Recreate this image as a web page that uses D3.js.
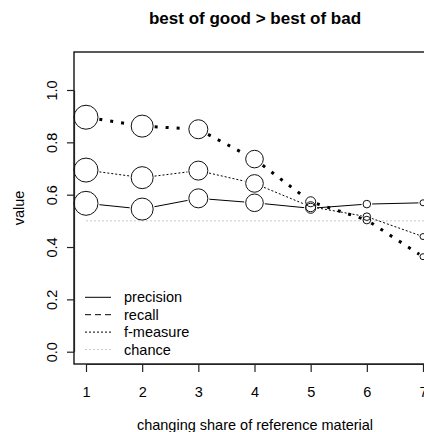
<!DOCTYPE html>
<html>
<head>
<meta charset="utf-8">
<script src="https://cdn.jsdelivr.net/npm/d3@7"></script>
<style>
  body { margin: 0; background: #fff; }
  svg { display: block; font-family: "Liberation Sans", Arial, sans-serif; }
</style>
</head>
<body>
<div id="chart"></div>
<script>
// data
var shares = [1, 2, 3, 4, 5, 6, 7]
var precision = [0.567, 0.545, 0.586, 0.569, 0.548, 0.564, 0.569]
var recall = [0.896, 0.862, 0.850, 0.736, 0.573, 0.503, 0.363]
var fmeasure = [0.694, 0.665, 0.692, 0.643, 0.554, 0.516, 0.440]
var chance = 0.5
var pointSize = [12, 11, 9.5, 8.8, 5, 3.8, 3]
var yTicks = [0, 0.2, 0.4, 0.6, 0.8, 1.0]
var legendLabels = ["precision", "recall", "f-measure", "chance"]

var width = 424, height = 432
var box = { left: 74, top: 52, right: 437, bottom: 364 }

var svg = d3.select("#chart").append("svg")
  .attr("width", width)
  .attr("height", height)

var x = d3.scaleLinear().domain([1, 7]).range([86, 423])
var y = d3.scaleLinear().domain([0, 1]).range([351.7, 90])

// plot box
svg.append("rect")
  .attr("x", box.left).attr("y", box.top)
  .attr("width", box.right - box.left).attr("height", box.bottom - box.top)
  .attr("fill", "none").attr("stroke", "#000").attr("stroke-width", 1.3)

// axes
var yAxis = svg.append("g")
  .attr("transform", "translate(" + box.left + ",0)")
  .call(d3.axisLeft(y).tickValues(yTicks).tickFormat(d3.format(".1f")).tickSize(7).tickSizeOuter(0))
yAxis.selectAll("text")
  .attr("x", null).attr("dy", null)
  .attr("text-anchor", "middle")
  .attr("transform", "translate(-17,0) rotate(-90)")

var xAxis = svg.append("g")
  .attr("transform", "translate(0," + box.bottom + ")")
  .call(d3.axisBottom(x).tickValues(shares).tickFormat(d3.format("d")).tickSize(8).tickSizeOuter(0))
xAxis.selectAll("text").attr("y", 33).attr("dy", null)

svg.selectAll(".tick text").attr("font-size", 14.5).attr("font-family", "Liberation Sans, Arial, sans-serif").attr("fill", "#000")
svg.selectAll(".domain, .tick line").attr("stroke", "#222").attr("stroke-width", 1.2)

// titles
svg.append("text")
  .attr("x", 255).attr("y", 24)
  .attr("text-anchor", "middle")
  .attr("font-size", 17).attr("font-weight", "bold")
  .text("best of good > best of bad")

svg.append("text")
  .attr("x", 255).attr("y", 430)
  .attr("text-anchor", "middle")
  .attr("font-size", 14.5)
  .text("changing share of reference material")

svg.append("text")
  .attr("transform", "translate(24,208) rotate(-90)")
  .attr("text-anchor", "middle")
  .attr("font-size", 14.5)
  .text("value")

var plot = svg.append("g")

// chance line
plot.append("line")
  .attr("x1", x(1)).attr("x2", x(7.3))
  .attr("y1", y(chance)).attr("y2", y(chance))
  .attr("stroke", "#c8c8c8").attr("stroke-dasharray", "2,2")

// series drawn like R type="b": segments stop at point edges
function series(values, dash, lw) {
  var pts = values.map(function(v, i) { return [x(shares[i]), y(v), pointSize[i]] })
  var segs = d3.pairs(pts).map(function(p) {
    var a = p[0], b = p[1]
    var dx = b[0] - a[0], dy = b[1] - a[1], len = Math.sqrt(dx * dx + dy * dy)
    var ux = dx / len, uy = dy / len
    return [a[0] + ux * (a[2] + 1.5), a[1] + uy * (a[2] + 1.5), b[0] - ux * (b[2] + 1.5), b[1] - uy * (b[2] + 1.5), len > a[2] + b[2] + 3]
  }).filter(function(s) { return s[4] })

  plot.append("g").selectAll("line").data(segs).join("line")
    .attr("x1", function(s) { return s[0] }).attr("y1", function(s) { return s[1] })
    .attr("x2", function(s) { return s[2] }).attr("y2", function(s) { return s[3] })
    .attr("stroke", "#000").attr("stroke-width", lw)
    .attr("stroke-dasharray", dash)

  plot.append("g").selectAll("circle").data(pts).join("circle")
    .attr("cx", function(p) { return p[0] }).attr("cy", function(p) { return p[1] })
    .attr("r", function(p) { return p[2] })
    .attr("fill", "none").attr("stroke", "#111").attr("stroke-width", 1)
}

series(precision, null, 1)
series(fmeasure, "2,2", 1)
series(recall, "3,8", 3)

// legend
var legendStyles = [
  { dash: null, color: "#000" },
  { dash: "6,4", color: "#000" },
  { dash: "2,2", color: "#000" },
  { dash: "2,2", color: "#c8c8c8" }
]
var legend = svg.append("g").selectAll("g").data(legendLabels).join("g")
  .attr("transform", function(d, i) { return "translate(0," + (297.3 + i * 17.4) + ")" })
legend.append("line")
  .attr("x1", 85).attr("x2", 111)
  .attr("stroke", function(d, i) { return legendStyles[i].color })
  .attr("stroke-dasharray", function(d, i) { return legendStyles[i].dash })
legend.append("text")
  .attr("x", 124).attr("y", 5)
  .attr("font-size", 14.5)
  .text(function(d) { return d })
</script>
</body>
</html>
